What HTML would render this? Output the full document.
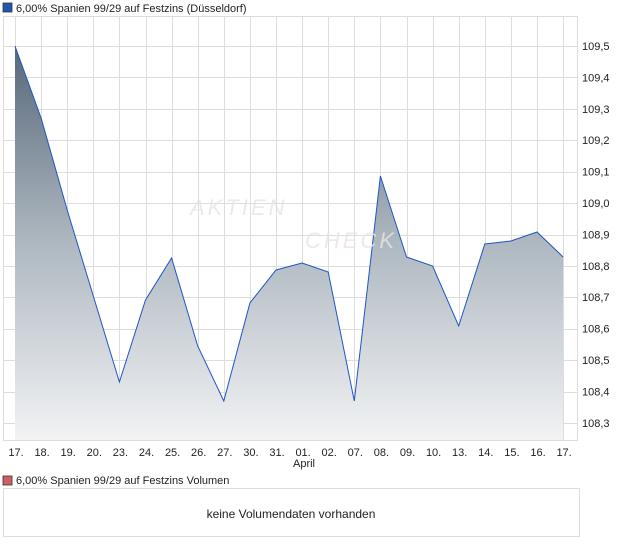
<!DOCTYPE html><html><head><meta charset="utf-8"><style>body{margin:0;background:#fff;font-family:"Liberation Sans",sans-serif}</style></head><body>
<svg width="620" height="546" xmlns="http://www.w3.org/2000/svg" font-family="Liberation Sans, sans-serif">
<defs><linearGradient id="g" x1="0" y1="46" x2="0" y2="440" gradientUnits="userSpaceOnUse"><stop offset="0" stop-color="#57687a"/><stop offset="0.5" stop-color="#aeb8c0"/><stop offset="1" stop-color="#f2f3f5"/></linearGradient></defs>
<rect x="3" y="3" width="9" height="9" fill="#1f55b5" stroke="#333" stroke-width="0.8"/>
<text x="16" y="12" font-size="11" fill="#222">6,00% Spanien 99/29 auf Festzins (Düsseldorf)</text>
<rect x="3.5" y="16.5" width="574" height="424" fill="#fff" stroke="#ddd"/>
<g stroke="#ddd" stroke-width="1">
<line x1="3" y1="46.5" x2="578" y2="46.5"/><line x1="3" y1="77.5" x2="578" y2="77.5"/><line x1="3" y1="109.5" x2="578" y2="109.5"/><line x1="3" y1="140.5" x2="578" y2="140.5"/><line x1="3" y1="172.5" x2="578" y2="172.5"/><line x1="3" y1="203.5" x2="578" y2="203.5"/><line x1="3" y1="235.5" x2="578" y2="235.5"/><line x1="3" y1="266.5" x2="578" y2="266.5"/><line x1="3" y1="297.5" x2="578" y2="297.5"/><line x1="3" y1="329.5" x2="578" y2="329.5"/><line x1="3" y1="360.5" x2="578" y2="360.5"/><line x1="3" y1="392.5" x2="578" y2="392.5"/><line x1="3" y1="423.5" x2="578" y2="423.5"/>
</g>
<g stroke="#ddd" id="vg"></g>
<path id="area" fill="url(#g)"/>
<polyline id="ln" fill="none" stroke="#1f55c5" stroke-width="1"/>
<text x="190" y="215" font-size="22" font-style="italic" fill="#ebe4de" fill-opacity="0.8" letter-spacing="3">AKTIEN</text>
<text x="305" y="248" font-size="22" font-style="italic" fill="#ebe4de" fill-opacity="0.8" letter-spacing="3">CHECK</text>
<g font-size="11" fill="#222" id="yl"></g>
<g font-size="11" fill="#222" text-anchor="middle" id="xl"></g>
<text x="304" y="467" font-size="11" fill="#222" text-anchor="middle">April</text>
<rect x="3" y="476" width="9" height="9" fill="#d06060" stroke="#333" stroke-width="0.8"/>
<text x="16" y="484" font-size="11" fill="#222">6,00% Spanien 99/29 auf Festzins Volumen</text>
<rect x="3.5" y="488.5" width="576" height="48" fill="#fff" stroke="#ddd"/>
<text x="291" y="518" font-size="12" fill="#222" text-anchor="middle">keine Volumendaten vorhanden</text>
</svg>
<script>
var ys=[46,118,210,296,382,300,258,346,401,303,270,263,272,401,176,257,266,326,244,241,232,257];
var lab=["17.","18.","19.","20.","23.","24.","25.","26.","27.","30.","31.","01.","02.","07.","08.","09.","10.","13.","14.","15.","16.","17."];
var pts=[],vg="",xl="";
for(var i=0;i<22;i++){var x=15+i*26.1;pts.push(x.toFixed(1)+","+ys[i]);
vg+='<line x1="'+(Math.round(x)+.5)+'" y1="16" x2="'+(Math.round(x)+.5)+'" y2="440"/>';
xl+='<text x="'+(x+1).toFixed(1)+'" y="456">'+lab[i]+'</text>';}
document.getElementById('vg').innerHTML=vg;
document.getElementById('xl').innerHTML=xl;
document.getElementById('ln').setAttribute('points',pts.join(' '));
document.getElementById('area').setAttribute('d','M15,440 L'+pts.join(' L')+' L563,440 Z');
var yl="";for(var k=0;k<13;k++){var v=(109.5-k*0.1).toFixed(1).replace('.',',');var y=46+k*31.4;yl+='<text x="582" y="'+(y+4)+'">'+v+'</text>';}
document.getElementById('yl').innerHTML=yl;
</script>
</body></html>
